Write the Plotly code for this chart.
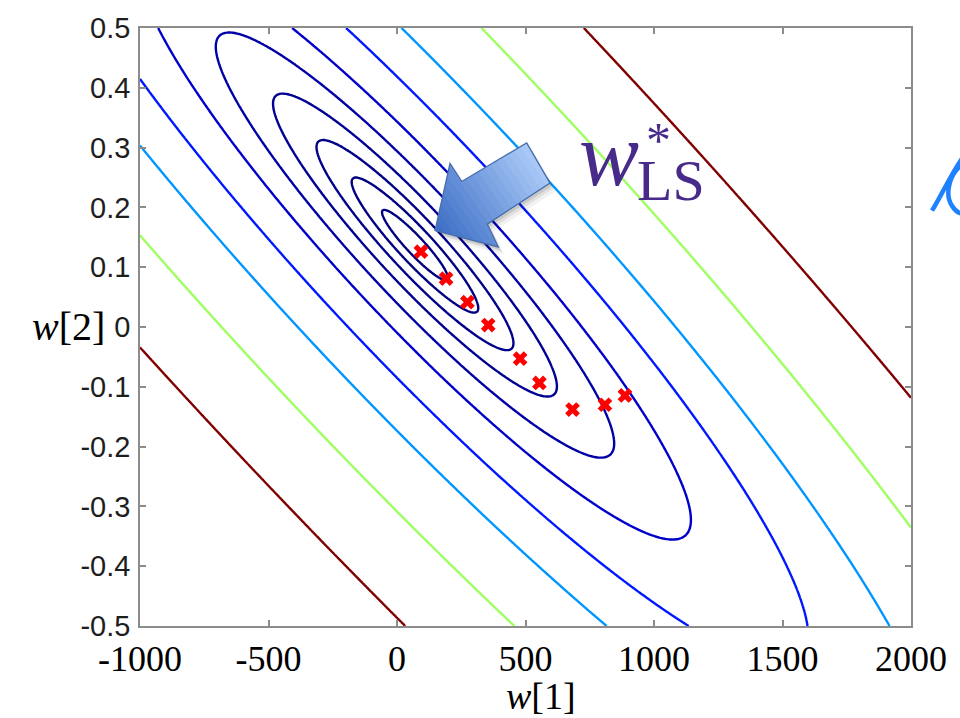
import numpy as np
import plotly.graph_objects as go

# ---------------- data ----------------
w_ls = [70.0, 0.137]                       # minimiser of the LS loss
hessian = [[4.9287e-7, 1.00289e-3],        # quadratic form of the loss
           [1.00289e-3, 2.34296]]
contour_levels = [0.00105, 0.00386, 0.00934, 0.0194, 0.0382, 0.0733, 0.149, 0.272, 0.53, 1.0]
path_w1 = [93, 191, 274, 355, 479, 554, 683, 809, 887]
path_w2 = [0.126, 0.081, 0.0415, 0.0033, -0.053, -0.0936, -0.138, -0.130, -0.1145]
x_tickvals = [-1000, -500, 0, 500, 1000, 1500, 2000]
x_ticktext = ["-1000", "-500", "0", "500", "1000", "1500", "2000"]
y_tickvals = [-0.5, -0.4, -0.3, -0.2, -0.1, 0, 0.1, 0.2, 0.3, 0.4, 0.5]
y_ticktext = ["-0.5", "-0.4", "-0.3", "-0.2", "-0.1", "0", "0.1", "0.2", "0.3", "0.4", "0.5"]

# ---------------- figure geometry ----------------
W, H = 960, 718
ML, MR, MT, MB = 140, 49, 17, 92
PW, PH = W - ML - MR, H - MT - MB


def to_paper(x, y):
    return ((x - ML) / PW, (H - MB - y) / PH)


def jet(t):
    r = min(max(1.5 - abs(4 * t - 3), 0), 1)
    g = min(max(1.5 - abs(4 * t - 2), 0), 1)
    b = min(max(1.5 - abs(4 * t - 1), 0), 1)
    return f"rgb({round(r*255)},{round(g*255)},{round(b*255)})"


# ---------------- loss surface ----------------
g1 = np.linspace(-1000, 2000, 481)
g2 = np.linspace(-0.5, 0.5, 481)
G1, G2 = np.meshgrid(g1, g2)
d1, d2 = G1 - w_ls[0], G2 - w_ls[1]
Z = hessian[0][0] * d1**2 + 2 * hessian[0][1] * d1 * d2 + hessian[1][1] * d2**2
zmax = max(contour_levels)

fig = go.Figure()
for lev in contour_levels:
    fig.add_trace(go.Contour(
        x=g1, y=g2, z=Z, autocontour=False,
        contours=dict(start=lev, end=lev, size=1, coloring="none", showlabels=False),
        line=dict(color=jet(lev / zmax), width=2.4, smoothing=1),
        showscale=False, hoverinfo="skip", showlegend=False))

fig.add_trace(go.Scatter(
    x=path_w1, y=path_w2, mode="markers",
    marker=dict(symbol="x", size=13, color="rgb(255,0,0)", line=dict(width=0)),
    hoverinfo="skip", showlegend=False))

# ---------------- block arrow pointing at w*_LS (annotation) ----------------
arrow_px = [(435, 223.3), (450, 155), (461.7, 173.3), (526.7, 134),
            (550, 175), (487.3, 216.7), (498.3, 240)]


def clip_half(poly, n, c, sign):
    out = []
    m = len(poly)
    for i in range(m):
        p, q = poly[i], poly[(i + 1) % m]
        fp = sign * (n[0] * p[0] + n[1] * p[1] - c)
        fq = sign * (n[0] * q[0] + n[1] * q[1] - c)
        if fp >= 0:
            out.append(p)
        if (fp >= 0) != (fq >= 0):
            t = fp / (fp - fq)
            out.append((p[0] + t * (q[0] - p[0]), p[1] + t * (q[1] - p[1])))
    return out


def path_from(poly):
    pts = [to_paper(x, y) for x, y in poly]
    return "M " + " L ".join(f"{a:.5f},{b:.5f}" for a, b in pts) + " Z"


shapes = []
for off, alpha in [((6, 8), 0.05), ((4, 5), 0.08), ((2, 3), 0.10)]:
    shapes.append(dict(type="path", xref="paper", yref="paper",
                       path=path_from([(x + off[0], y + off[1]) for x, y in arrow_px]),
                       fillcolor=f"rgba(0,0,0,{alpha})", line=dict(width=0)))

tip = np.array(arrow_px[0])
end = (np.array(arrow_px[3]) + np.array(arrow_px[4])) / 2
dvec = (end - tip) / np.linalg.norm(end - tip)
proj = [dvec[0] * x + dvec[1] * y for x, y in arrow_px]
tmin, tmax = min(proj), max(proj)
c0 = np.array([58, 108, 196])
c1 = np.array([172, 203, 248])
NB = 18
for i in range(NB):
    a = tmin + (tmax - tmin) * i / NB - 0.6
    b = tmin + (tmax - tmin) * (i + 1) / NB + 0.6
    poly = clip_half(arrow_px, dvec, a, 1)
    poly = clip_half(poly, dvec, b, -1)
    if len(poly) < 3:
        continue
    f = (i + 0.5) / NB
    col = c0 + (c1 - c0) * f
    shapes.append(dict(type="path", xref="paper", yref="paper", path=path_from(poly),
                       fillcolor=f"rgb({col[0]:.0f},{col[1]:.0f},{col[2]:.0f})",
                       line=dict(width=0)))
shapes.append(dict(type="path", xref="paper", yref="paper", path=path_from(arrow_px),
                   fillcolor="rgba(0,0,0,0)", line=dict(color="rgb(70,110,172)", width=1.3)))


# clipped hand-written stroke at the right edge
def curve_path(cmds):
    s = []
    for cmd, pts in cmds:
        s.append(cmd + " " + " ".join("%.5f,%.5f" % to_paper(x, y) for x, y in pts))
    return " ".join(s)


shapes.append(dict(type="path", xref="paper", yref="paper",
                   path=curve_path([("M", [(932, 203)]), ("C", [(940, 190), (950, 168), (962, 150)]),
                                    ("M", [(963, 156)]), ("C", [(950, 164), (944, 186), (952, 198)]),
                                    ("C", [(955, 203), (958, 206), (963, 206)])]),
                   line=dict(color="rgb(30,130,255)", width=4.5)))

# ---------------- annotations ----------------
purple = "rgb(72,42,138)"
ann = []


def add_text(text, x, y, size, color="black", family="Liberation Serif",
             xanchor="center", yanchor="middle", align="center"):
    px_, py_ = to_paper(x, y)
    ann.append(dict(text=text, x=px_, y=py_, xref="paper", yref="paper",
                    xanchor=xanchor, yanchor=yanchor, align=align, showarrow=False,
                    font=dict(family=family, size=size, color=color)))


add_text("<i>w</i>", 609, 146, 90, purple)
# superscript * stacked over subscript LS, in one text block
add_text("<span style='font-size:36px'>&nbsp;</span><span style='font-size:50px'>*</span>"
         "<br><span style='font-size:58px'>LS</span>",
         635, 207, 33, purple, xanchor="left", yanchor="bottom", align="left")
add_text("<i>w</i>[2]", 68, 321, 40)
add_text("<i>w</i>[1]", 541, 697, 38)

axis_common = dict(showgrid=False, zeroline=False, showline=True, mirror="ticks",
                   linecolor="rgb(140,140,140)", linewidth=1.5, ticks="inside",
                   ticklen=6, tickwidth=1.5, tickcolor="rgb(140,140,140)")

fig.update_layout(
    width=W, height=H, margin=dict(l=ML, r=MR, t=MT, b=MB),
    paper_bgcolor="white", plot_bgcolor="white",
    xaxis=dict(range=[-1000, 2000], tickvals=x_tickvals, ticktext=x_ticktext,
               tickfont=dict(family="Liberation Serif", size=36, color="black"),
               ticklabelstandoff=0, **axis_common),
    yaxis=dict(range=[-0.5, 0.5], tickvals=y_tickvals, ticktext=y_ticktext,
               tickfont=dict(family="Liberation Sans", size=29, color="rgb(30,30,30)"),
               ticklabelstandoff=2, **axis_common),
    shapes=shapes, annotations=ann, showlegend=False)

fig.write_html("out.html")
